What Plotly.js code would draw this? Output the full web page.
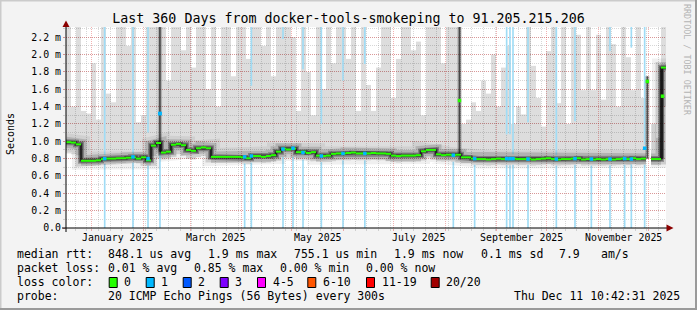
<!DOCTYPE html>
<html><head><meta charset="utf-8">
<script src="https://cdn.plot.ly/plotly-3.0.1.min.js"></script>
<style>html,body{margin:0;padding:0;background:#f3f3f3;}#chart{width:697px;height:310px;}</style>
</head><body><div id="chart"></div>
<script>
// ---------------- data ----------------
const startTime = '2024-12-16 10:42:31';
const endTime = '2025-12-11 10:42:31';
const stepDays = 3; // one smoke column per 3 days

// median RTT per period (ms)
const median = [
 0.99,0.985,0.965,0.775,0.775,0.775,0.78,0.795,0.80,0.80,
 0.805,0.805,0.81,0.815,0.80,0.815,0.78,0.95,0.98,0.87,
 0.88,0.96,0.97,0.955,0.90,0.89,0.92,0.93,0.92,0.82,
 0.82,0.82,0.82,0.82,0.82,0.815,0.805,0.83,0.83,0.82,
 0.83,0.84,0.88,0.915,0.905,0.915,0.875,0.88,0.865,0.875,
 0.835,0.83,0.835,0.855,0.86,0.86,0.865,0.87,0.86,0.86,
 0.86,0.865,0.86,0.86,0.855,0.835,0.83,0.835,0.835,0.835,
 0.84,0.885,0.90,0.90,0.85,0.84,0.845,0.84,0.845,0.815,
 0.815,0.80,0.795,0.795,0.79,0.795,0.80,0.795,0.795,0.80,
 0.795,0.795,0.80,0.79,0.795,0.80,0.805,0.795,0.79,0.795,
 0.795,0.80,0.805,0.79,0.795,0.79,0.795,0.79,0.795,0.79,
 0.795,0.80,0.795,0.805,0.795,0.80,null,0.795,0.795,1.85
];
// highest ping of the period (top of smoke, ms)
const smokeTop = [
 2.32,1.40,2.32,1.35,1.32,1.90,1.25,2.32,1.55,1.45,
 2.32,2.32,2.10,2.32,1.22,1.30,2.32,2.32,2.32,2.32,
 1.70,2.32,2.32,2.05,2.32,1.85,2.32,2.32,1.60,2.32,
 1.40,2.32,2.32,1.75,2.32,2.32,1.95,2.32,2.32,2.10,
 2.32,1.75,2.32,2.32,2.32,2.20,1.35,2.32,1.80,1.30,
 2.32,1.60,2.32,1.90,2.32,2.32,1.95,2.32,1.35,2.32,
 1.65,1.35,1.85,2.32,2.32,1.50,1.95,2.32,2.32,2.05,
 2.15,1.30,2.32,2.32,2.32,1.90,2.32,2.32,2.32,1.20,
 1.25,1.45,1.35,1.70,1.55,2.00,1.40,1.85,2.10,1.20,
 1.40,1.31,2.32,1.87,1.50,1.17,2.04,2.32,1.44,2.32,
 1.20,2.32,2.23,1.59,2.32,1.59,2.23,1.48,2.32,2.12,
 1.40,2.32,1.97,1.59,2.32,1.50,null,1.20,1.04,2.32
];
// lowest ping of the period (bottom of smoke, ms)
const smokeBottom = [
 0.86,0.85,0.84,0.72,0.72,0.72,0.725,0.74,0.745,0.745,
 0.75,0.75,0.755,0.755,0.745,0.75,0.72,0.83,0.86,0.79,
 0.80,0.84,0.85,0.84,0.80,0.79,0.82,0.83,0.80,0.75,
 0.75,0.75,0.75,0.75,0.75,0.745,0.74,0.755,0.755,0.75,
 0.755,0.77,0.79,0.82,0.81,0.82,0.79,0.79,0.78,0.79,
 0.76,0.76,0.76,0.77,0.78,0.78,0.78,0.785,0.78,0.78,
 0.78,0.785,0.78,0.78,0.775,0.76,0.755,0.76,0.76,0.76,
 0.765,0.80,0.81,0.81,0.77,0.765,0.77,0.765,0.77,0.745,
 0.745,0.73,0.725,0.725,0.72,0.725,0.73,0.725,0.725,0.73,
 0.725,0.725,0.73,0.72,0.725,0.73,0.735,0.725,0.72,0.725,
 0.725,0.73,0.735,0.72,0.725,0.72,0.725,0.72,0.725,0.72,
 0.725,0.73,0.725,0.735,0.725,0.73,null,0.725,0.725,1.40
];
// packet-loss events (1 of 20 lost)
const lossTimes = ['2025-01-08 16:00','2025-01-25 15:00','2025-02-03 15:30','2025-02-10 20:00','2025-04-02 15:30',
 '2025-04-06 15:30','2025-04-25 15:30','2025-05-01 15:30','2025-05-07 15:30','2025-05-18 15:30',
 '2025-05-31 15:30','2025-06-13 18:00','2025-08-05 20:00','2025-08-18 15:30','2025-09-06 20:00',
 '2025-09-08 20:00','2025-09-10 15:30','2025-09-19 15:30','2025-10-06 15:30','2025-10-17 20:00',
 '2025-10-27 15:30','2025-11-07 20:00','2025-11-16 15:30','2025-11-20 15:30','2025-11-28 15:30'];
const lossMedian = [0.80,0.82,0.80,1.32,0.82,0.83,0.91,0.92,0.87,0.83,0.86,0.86,0.84,0.80,0.80,
 0.80,0.80,0.795,0.795,0.80,0.795,0.795,0.80,0.795,0.92];
// top of the smoke in the loss column (loss bar visible above it); null = hidden
const lossSmokeTop = [0.84,0.86,1.10,null,null,1.64,2.18,null,1.83,1.20,1.70,1.89,null,null,1.08,
 1.08,0.85,1.22,0.84,1.23,null,2.04,null,2.08,0.96];
// short high-jitter spikes
const spikeTimes = ['2025-02-10 19:00','2025-08-09 13:00','2025-11-30 06:00','2025-12-09 08:00'];
const spikeLow = [0.88,0.84,0.80,0.80];
const spikeHigh = [2.32,2.32,1.75,1.85];
const spikeMedian = [1.32,1.47,1.69,1.52];
const spikeLoss = [1,0,0,0];

const monthLabels = ['January 2025','March 2025','May 2025','July 2025','September 2025','November 2025'];
const monthLabelTimes = ['2025-01-16 12:00','2025-03-16 12:00','2025-05-16 12:00','2025-07-16 12:00','2025-09-16 00:00','2025-11-16 00:00'];
const yTickValues = [0,0.2,0.4,0.6,0.8,1.0,1.2,1.4,1.6,1.8,2.0,2.2];
const yTickText = ['0.0','0.2 m','0.4 m','0.6 m','0.8 m','1.0 m','1.2 m','1.4 m','1.6 m','1.8 m','2.0 m','2.2 m'];
const lossLegendLabels = ['0','1','2','3','4-5','6-10','11-19','20/20'];
const lossLegendColors = ['#26ff00','#00b8ff','#0059ff','#7e00ff','#ff00ff','#ff5500','#ff0000','#a10000'];
const statRows = [
 [['median rtt:',16],['848.1 us avg',107.3],['1.9 ms max',207.3],['755.1 us min',293.3],['1.9 ms now',393.3],['0.1 ms sd',480],['7.9',558.3],['am/s',600]],
 [['packet loss:',16],['0.01 % avg',107.3],['0.85 % max',193.3],['0.00 % min',279.3],['0.00 % now',365]]
];
const probeText = '20 ICMP Echo Pings (56 Bytes) every 300s';
const stampText = 'Thu Dec 11 10:42:31 2025';

// ---------------- helpers ----------------
const DAY = 864e5;
function toMs(s){const [d,t]=s.split(' ');const [Y,M,D]=d.split('-').map(Number);const [h,m,sec]=(t||'00:00:00').split(':').map(Number);return Date.UTC(Y,M-1,D,h||0,m||0,sec||0);}
function fmt(ms){return new Date(ms).toISOString().replace('T',' ').slice(0,19);}
const t0 = toMs(startTime), t1 = toMs(endTime);
const STEP = stepDays*DAY;
const yTop = 2.318;
const W=697,H=310,L=66,R=666,T=27,B=228;
const px = x => (x-L)/(R-L);
const py = y => (B-y)/(B-T);
const MAJOR = 'rgba(222,50,50,0.38)';
const MINOR = 'rgba(130,130,130,0.32)';
const MONO = 'DejaVu Sans Mono';

const periodMid = median.map((_,i)=>fmt(t0+i*STEP+STEP/2));
// step path of the median (horizontal runs joined by vertical steps)
const stepX=[],stepY=[],segX=[],segY=[];
median.forEach((v,i)=>{
  if(v==null){stepX.push(null);stepY.push(null);return;}
  const a=fmt(t0+i*STEP), b=fmt(t0+(i+1)*STEP);
  stepX.push(a,b);stepY.push(v,v);
  segX.push(a,b,null);segY.push(v,v,null);
});
const periodIndex = s => Math.min(median.length-1, Math.floor((toMs(s)-t0)/STEP));
const bottomAt = s => { const b = smokeBottom[periodIndex(s)]; return b==null?0.73:b; };

const traces = [];
// smoke
traces.push({type:'bar',x:periodMid,base:smokeBottom,y:smokeTop.map((v,i)=>v==null?null:v-smokeBottom[i]),
  width:STEP,marker:{color:'rgba(0,0,0,0.135)',line:{width:0}},hoverinfo:'skip'});
// loss bars (below and above the smoke)
traces.push({type:'bar',x:lossTimes,base:lossTimes.map(()=>0),y:lossTimes.map(bottomAt),width:DAY,
  marker:{color:'#a0dcf5',line:{width:0}},hoverinfo:'skip'});
traces.push({type:'bar',x:lossTimes,base:lossSmokeTop,y:lossSmokeTop.map(v=>v==null?null:yTop-v),width:DAY,
  marker:{color:'#a0dcf5',line:{width:0}},hoverinfo:'skip'});
// spike smoke
traces.push({type:'bar',x:spikeTimes,base:spikeLow,y:spikeHigh.map((v,i)=>v-spikeLow[i]),width:2.6*DAY,
  marker:{color:'rgba(0,0,0,0.2)',line:{width:0}},hoverinfo:'skip'});
traces.push({type:'bar',x:spikeTimes,base:spikeLow,y:spikeHigh.map((v,i)=>v-spikeLow[i]),width:1.0*DAY,
  marker:{color:'rgba(30,30,30,0.72)',line:{width:0}},hoverinfo:'skip'});
// dense smoke around the median
[[18,'rgba(0,0,0,0.06)'],[11,'rgba(0,0,0,0.14)'],[6,'rgba(0,0,0,0.28)'],[3.5,'rgba(0,0,0,0.42)']].forEach(([w,c])=>{
  traces.push({type:'scatter',mode:'lines',x:stepX,y:stepY,line:{width:w,color:c},hoverinfo:'skip',connectgaps:false});
});
traces.push({type:'scatter',mode:'lines',x:stepX,y:stepY,line:{width:1,color:'#000'},hoverinfo:'skip',connectgaps:false});
traces.push({type:'scatter',mode:'lines',x:segX,y:segY,line:{width:2,color:'#26ff00'},hoverinfo:'skip',connectgaps:false});
// median markers of spikes and loss events
traces.push({type:'scatter',mode:'markers',x:spikeTimes,y:spikeMedian,
  marker:{symbol:'square',size:3.5,color:spikeLoss.map(l=>l?'#00b8ff':'#26ff00'),line:{width:0}},hoverinfo:'skip'});
traces.push({type:'scatter',mode:'markers',x:lossTimes,y:lossMedian,
  marker:{symbol:'square',size:3.5,color:'#00b8ff',line:{width:0}},hoverinfo:'skip'});

// ---------------- decorations ----------------
const shapes = [];
const rectPx=(x0,y0,x1,y1,fill,line)=>shapes.push({type:'rect',xref:'paper',yref:'paper',x0:px(x0),x1:px(x1),y0:py(y1),y1:py(y0),
  fillcolor:fill,line:line||{width:0},layer:'above'});
// frame
rectPx(0,0,697,1.5,'#cbcbcb');
rectPx(0,0,1.5,310,'#cbcbcb');
rectPx(695,0,697,310,'#9a9a9a');
rectPx(0,308,697,310,'#9a9a9a');
// axes
shapes.push({type:'line',xref:'paper',yref:'paper',x0:px(62),x1:px(668),y0:0,y1:0,line:{color:'#000',width:1},layer:'above'});
shapes.push({type:'line',xref:'paper',yref:'paper',x0:0,x1:0,y0:py(232),y1:py(25),line:{color:'#000',width:1},layer:'above'});
shapes.push({type:'path',xref:'paper',yref:'paper',path:`M${px(66)},${py(20.5)} L${px(69.5)},${py(27)} L${px(62.5)},${py(27)} Z`,
  fillcolor:'#8b0000',line:{width:0},layer:'above'});
shapes.push({type:'path',xref:'paper',yref:'paper',path:`M${px(673.5)},${py(228)} L${px(666.5)},${py(224.5)} L${px(666.5)},${py(231.5)} Z`,
  fillcolor:'#8b0000',line:{width:0},layer:'above'});
// loss colour boxes
const boxX=[108.7,145.7,182.7,219.7,257,307.3,366,430.7];
lossLegendColors.forEach((c,i)=>rectPx(boxX[i]+0.5,277.5,boxX[i]+8.5,287.5,c,{color:'#000',width:1}));

const annotations = [];
const textAt=(text,x,y,opt)=>annotations.push(Object.assign({text,xref:'paper',yref:'paper',x:px(x),y:py(y),
  xanchor:'left',yanchor:'middle',showarrow:false,borderpad:0,font:{family:MONO,size:11.5,color:'#000'}},opt||{}));
monthLabels.forEach((t,i)=>annotations.push({text:t,xref:'x',yref:'paper',x:monthLabelTimes[i],y:py(237.7),xanchor:'center',
  yanchor:'middle',showarrow:false,borderpad:0,font:{family:MONO,size:9.9,color:'#000'}}));
statRows.forEach((row,r)=>row.forEach(([t,x])=>textAt(t,x,254.3+14*r)));
textAt('loss color:',16,282);
lossLegendLabels.forEach((t,i)=>textAt(t,boxX[i]+14.6,282));
textAt('probe:',16,296.3);
textAt(probeText,107.3,296.3);
textAt(stampText,680.5,296.3,{xanchor:'right'});
textAt('Seconds',10,134,{xanchor:'center',textangle:-90,font:{family:MONO,size:10,color:'#000'}});
textAt('RRDTOOL / TOBI OETIKER',687.5,59.5,{xanchor:'center',textangle:90,font:{family:MONO,size:8.4,color:'#b4b4b4'}});

const layout = {
  width:W,height:H,margin:{l:L,r:W-R,t:T,b:H-B,pad:0},
  paper_bgcolor:'#f3f3f3',plot_bgcolor:'#ffffff',showlegend:false,barmode:'overlay',
  font:{family:MONO,size:10,color:'#000'},
  title:{text:'Last 360 Days from docker-tools-smokeping to 91.205.215.206',
    font:{family:MONO,size:13.3,color:'#000'},x:0.5,xanchor:'center',y:1-18/H,yanchor:'middle'},
  xaxis:{type:'date',range:[fmt(t0),fmt(t1)],dtick:'M1',tick0:'2024-12-01',showticklabels:false,
    ticks:'outside',ticklen:2,tickcolor:MAJOR,showgrid:true,gridcolor:MAJOR,griddash:'1px,1px',gridwidth:1,
    zeroline:false,showline:false,fixedrange:true,
    minor:{dtick:7*DAY,tick0:'2024-12-15',showgrid:true,gridcolor:MINOR,griddash:'1px,1px',ticks:'outside',ticklen:2,tickcolor:MINOR}},
  yaxis:{range:[0,yTop],tickvals:yTickValues,ticktext:yTickText,tickfont:{family:MONO,size:9.9,color:'#000'},
    ticks:'outside',ticklen:2,tickcolor:MAJOR,showgrid:true,gridcolor:MAJOR,griddash:'1px,1px',gridwidth:1,
    zeroline:false,showline:false,fixedrange:true,
    minor:{dtick:0.1,showgrid:true,gridcolor:MINOR,griddash:'1px,1px',ticks:'outside',ticklen:2,tickcolor:MINOR}},
  shapes,annotations
};
Plotly.newPlot('chart',traces,layout,{staticPlot:true,displayModeBar:false});
</script></body></html>
